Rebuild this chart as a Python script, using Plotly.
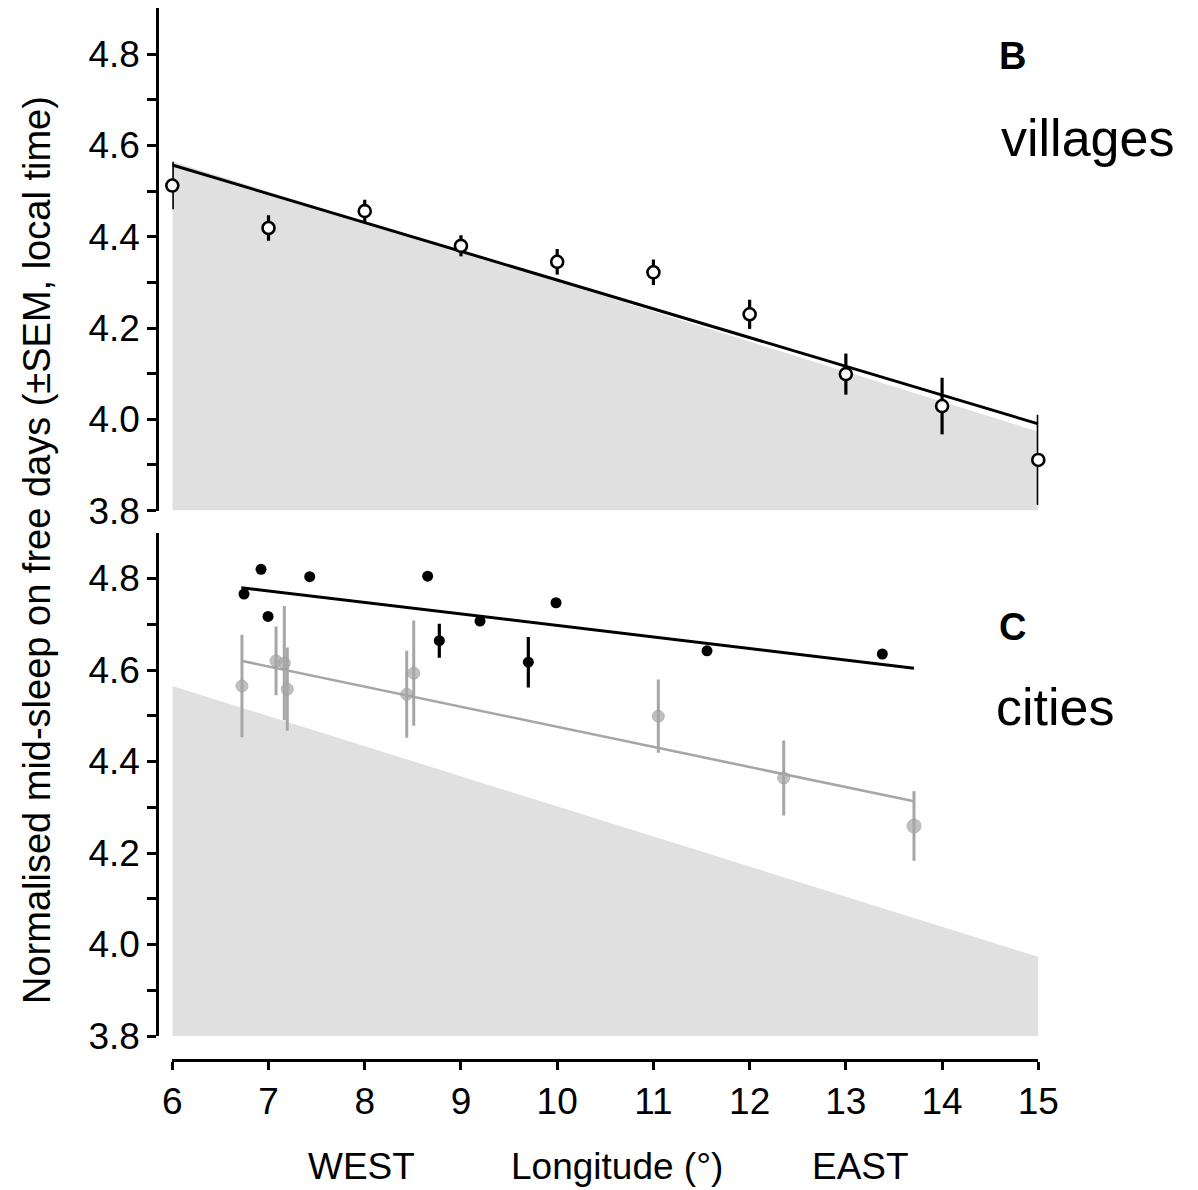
import plotly.graph_objects as go

# Page window is 1198x1190; the browser body adds an 8 px margin, so the
# figure is drawn 8 px smaller and all reference pixel positions are shifted.
OFF = 8
W, H = 1198 - OFF, 1190 - OFF

# ---------------- data ----------------
# Panel B: villages
village_lon = [6, 7, 8, 9, 10, 11, 12, 13, 14, 15]
village_mid = [4.512, 4.419, 4.456, 4.380, 4.345, 4.322, 4.230, 4.099, 4.029, 3.911]
village_sem = [0.052, 0.028, 0.025, 0.023, 0.028, 0.028, 0.032, 0.045, 0.062, 0.099]
village_fit_lon = [6, 15]
village_fit_mid = [4.557, 3.990]

# Predicted (sun-time) shading, both panels
pred_lon = [6, 15]
pred_mid = [4.565, 3.973]
pred_floor = [3.8, 3.8]

# Panel C: cities (black = small dots, grey = larger cities)
cityA_lon = [6.745, 6.922, 6.995, 7.428, 8.654, 8.775, 9.198, 9.700, 9.988, 11.557, 13.379]
cityA_mid = [4.766, 4.820, 4.717, 4.804, 4.805, 4.664, 4.707, 4.617, 4.747, 4.642, 4.635]
cityA_sem = [0.0, 0.0, 0.0, 0.0, 0.0, 0.037, 0.0, 0.055, 0.0, 0.0, 0.0]
cityA_fit_lon = [6.717, 13.708]
cityA_fit_mid = [4.780, 4.604]

cityB_lon = [6.724, 7.078, 7.164, 7.195, 8.436, 8.509, 11.051, 12.354, 13.708]
cityB_mid = [4.565, 4.620, 4.615, 4.558, 4.547, 4.593, 4.499, 4.364, 4.259]
cityB_sem = [0.112, 0.075, 0.125, 0.091, 0.095, 0.115, 0.080, 0.082, 0.076]
cityB_fit_lon = [6.717, 13.708]
cityB_fit_mid = [4.620, 4.313]

x_ticks = [6, 7, 8, 9, 10, 11, 12, 13, 14, 15]
y_ticks = [3.8, 3.9, 4.0, 4.1, 4.2, 4.3, 4.4, 4.5, 4.6, 4.7, 4.8]
y_ticklabels = ["3.8", "", "4.0", "", "4.2", "", "4.4", "", "4.6", "", "4.8"]

# ---------------- style ----------------
FONT = "Liberation Sans, Arial, Helvetica, sans-serif"
GREY_FILL = "#e0e0e0"
GREY = "#a6a6a6"
BLACK = "#000000"

def px_x(p):
    return (p - OFF) / W

def px_y(p):
    return 1 - (p - OFF) / H

fig = go.Figure()

for xa, ya in (("x", "y"), ("x2", "y2")):
    fig.add_trace(go.Scatter(x=pred_lon, y=pred_floor, mode="lines", line=dict(width=0, color=GREY_FILL),
                             xaxis=xa, yaxis=ya, showlegend=False, hoverinfo="skip"))
    fig.add_trace(go.Scatter(x=pred_lon, y=pred_mid, mode="lines", line=dict(width=0, color=GREY_FILL),
                             fill="tonexty", fillcolor=GREY_FILL,
                             xaxis=xa, yaxis=ya, showlegend=False, hoverinfo="skip"))

# Panel B
fig.add_trace(go.Scatter(x=village_fit_lon, y=village_fit_mid, mode="lines",
                         line=dict(color=BLACK, width=3), xaxis="x", yaxis="y", showlegend=False))
fig.add_trace(go.Scatter(x=village_lon, y=village_mid, mode="markers",
                         marker=dict(size=12, color="white", line=dict(color=BLACK, width=2.6)),
                         error_y=dict(type="data", array=village_sem, color=BLACK, thickness=3.2, width=0),
                         xaxis="x", yaxis="y", showlegend=False, cliponaxis=False))

# Panel C
cityB_sizes = [12] * (len(cityB_lon) - 1) + [14]
fig.add_trace(go.Scatter(x=cityB_fit_lon, y=cityB_fit_mid, mode="lines",
                         line=dict(color=GREY, width=2.6), xaxis="x2", yaxis="y2", showlegend=False))
fig.add_trace(go.Scatter(x=cityB_lon, y=cityB_mid, mode="markers",
                         marker=dict(size=cityB_sizes, color=GREY, line=dict(color="#9a9a9a", width=1)),
                         error_y=dict(type="data", array=cityB_sem, color=GREY, thickness=3, width=0),
                         xaxis="x2", yaxis="y2", showlegend=False))
fig.add_trace(go.Scatter(x=cityA_fit_lon, y=cityA_fit_mid, mode="lines",
                         line=dict(color=BLACK, width=3), xaxis="x2", yaxis="y2", showlegend=False))
fig.add_trace(go.Scatter(x=cityA_lon, y=cityA_mid, mode="markers",
                         marker=dict(size=11, color=BLACK),
                         error_y=dict(type="data", array=cityA_sem, color=BLACK, thickness=3.2, width=0),
                         xaxis="x2", yaxis="y2", showlegend=False))

xdom = [px_x(172.3), px_x(1038.3)]
tickfont = dict(family=FONT, size=37, color=BLACK)
yax_common = dict(range=[3.8, 4.9], tickvals=y_ticks, ticktext=y_ticklabels, ticks="outside",
                  ticklen=9, tickwidth=2.5, tickcolor=BLACK, showline=True, linewidth=2.5,
                  linecolor=BLACK, showgrid=False, zeroline=False, tickfont=tickfont,
                  anchor="free", position=px_x(157), fixedrange=True, automargin=False)

fig.update_layout(
    template="none",
    width=W, height=H,
    margin=dict(l=0, r=0, t=0, b=0, pad=0, autoexpand=False),
    paper_bgcolor="white", plot_bgcolor="rgba(0,0,0,0)",
    xaxis=dict(domain=xdom, range=[6, 15], visible=False, anchor="y", automargin=False),
    xaxis2=dict(domain=xdom, range=[6, 15], tickvals=x_ticks, ticks="outside", ticklen=8,
                tickwidth=2.5, tickcolor=BLACK, showline=True, linewidth=2.5, linecolor=BLACK,
                showgrid=False, zeroline=False, tickfont=tickfont, anchor="free",
                position=px_y(1060), automargin=False),
    yaxis=dict(domain=[px_y(510.6), px_y(8.45)], **yax_common),
    yaxis2=dict(domain=[px_y(1036), px_y(532.75)], **yax_common),
)

def ann(text, x, y, size, bold=False, xanchor="center", angle=0):
    fig.add_annotation(text=f"<b>{text}</b>" if bold else text, xref="paper", yref="paper",
                       x=px_x(x), y=px_y(y), xanchor=xanchor, yanchor="middle", showarrow=False,
                       textangle=angle, font=dict(family=FONT, size=size, color=BLACK))

ann("B", 1012, 56, 38, bold=True)
ann("villages", 999, 138, 52, xanchor="left")
ann("C", 1012, 627, 38, bold=True)
ann("cities", 994, 707, 52, xanchor="left")
ann("WEST", 361, 1166, 37)
ann("Longitude (°)", 617, 1166, 37)
ann("EAST", 860, 1166, 37)
ann("Normalised mid-sleep on free days (±SEM, local time)", 37, 550, 38, angle=-90)

fig.write_html("out.html")
